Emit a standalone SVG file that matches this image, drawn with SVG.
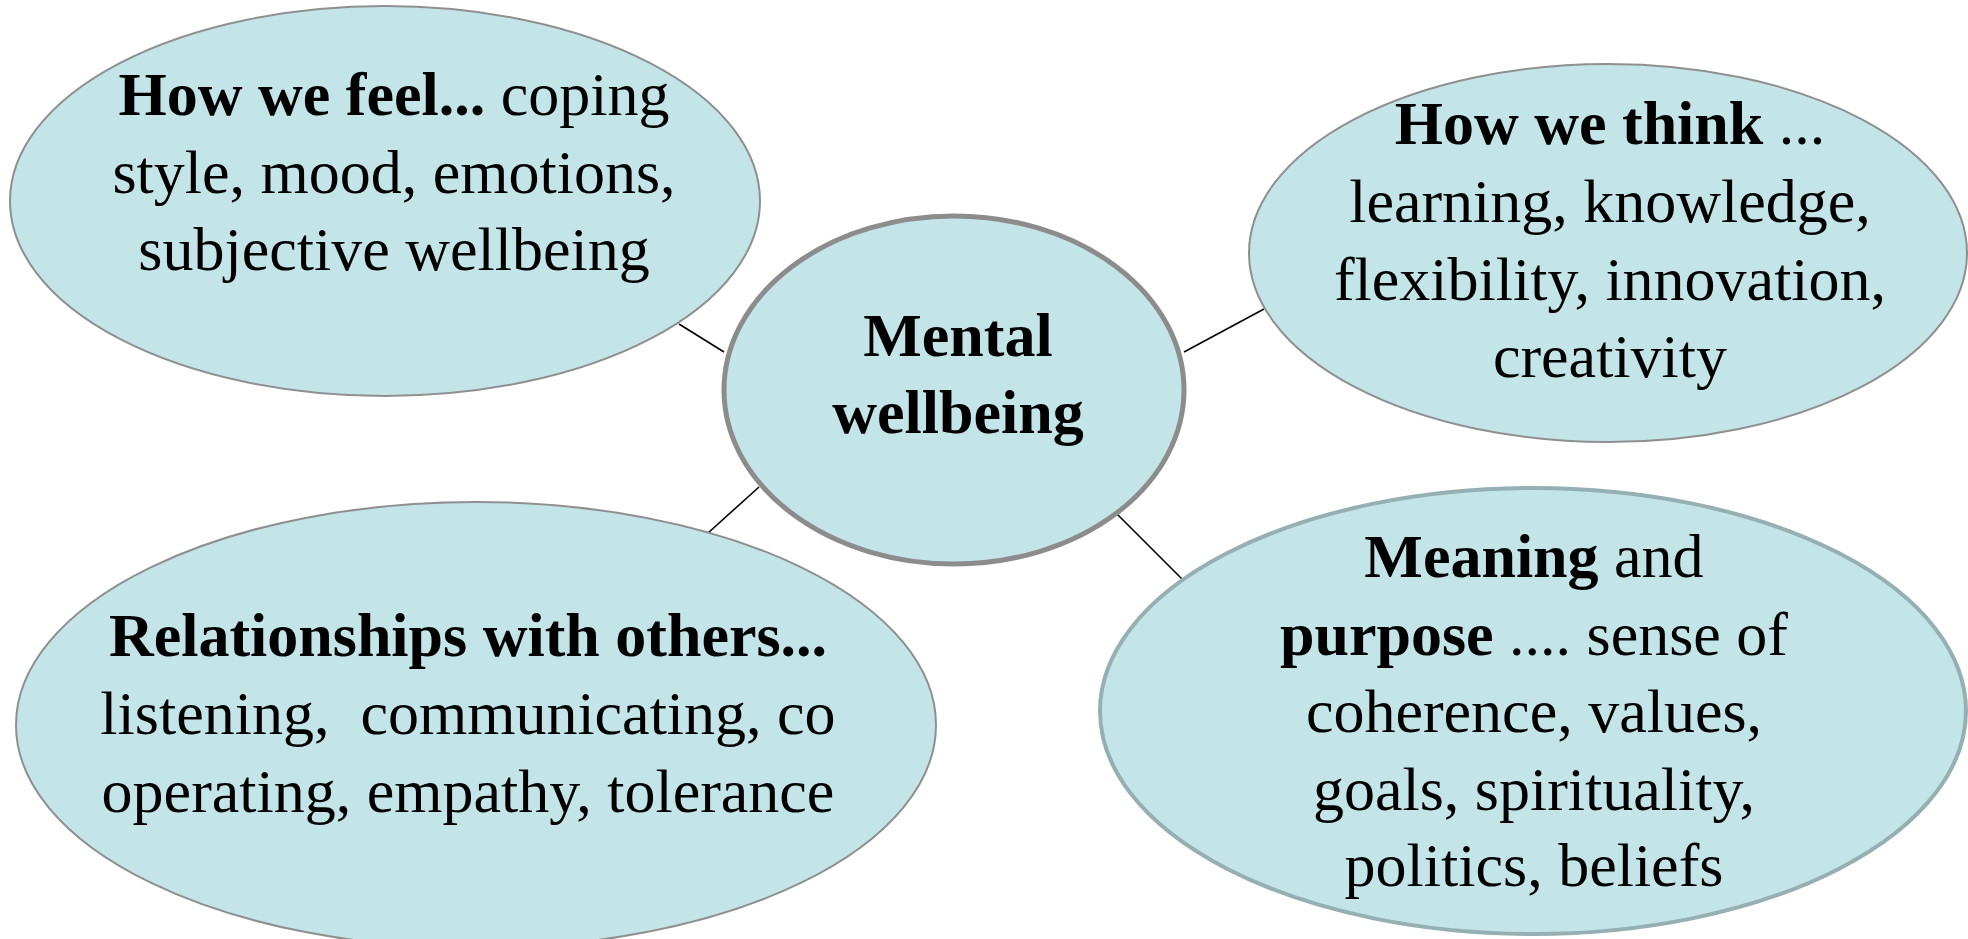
<svg xmlns="http://www.w3.org/2000/svg" width="1968" height="939" viewBox="0 0 1968 939">
  <style>
    .bubble { fill: #c4e5e8; stroke: #8f8f8f; stroke-width: 2; }
    .hub { fill: #c4e5e8; stroke: #8c8c8c; stroke-width: 5; }
    .accent { fill: #c4e5e8; stroke: #95afb2; stroke-width: 4; }
    .link { stroke: #000; stroke-width: 1.6; fill: none; }
    text { font-family: "Liberation Serif", "Times New Roman", serif; font-size: 62px; fill: #000; text-anchor: middle; white-space: pre; }
    .b { font-weight: bold; }
  </style>
  <rect width="1968" height="939" fill="#fff"/>

  <!-- connectors between the hub and each bubble -->
  <g id="connectors">
    <line class="link" x1="679" y1="324" x2="724" y2="352"/>
    <line class="link" x1="1184" y1="352" x2="1264" y2="309"/>
    <line class="link" x1="759" y1="487" x2="708" y2="533"/>
    <line class="link" x1="1116" y1="513" x2="1182" y2="579"/>
  </g>

  <g id="feel">
    <ellipse class="bubble" cx="385" cy="201" rx="375" ry="195"/>
    <text x="394" y="115"><tspan class="b">How we feel...</tspan> coping</text>
    <text x="394" y="193">style, mood, emotions,</text>
    <text x="394" y="270">subjective wellbeing</text>
  </g>

  <g id="think">
    <ellipse class="bubble" cx="1608" cy="253" rx="359" ry="189"/>
    <text x="1610" y="144"><tspan class="b">How we think</tspan> ...</text>
    <text x="1610" y="222">learning, knowledge,</text>
    <text x="1610" y="300">flexibility, innovation,</text>
    <text x="1610" y="377">creativity</text>
  </g>

  <g id="relationships">
    <ellipse class="bubble" cx="476" cy="725" rx="460" ry="223"/>
    <text x="468" y="656" class="b">Relationships with others...</text>
    <text x="468" y="734">listening,  communicating, co</text>
    <text x="468" y="812">operating, empathy, tolerance</text>
  </g>

  <g id="meaning">
    <ellipse class="accent" cx="1533" cy="711" rx="433" ry="223"/>
    <text x="1534" y="577"><tspan class="b">Meaning</tspan> and</text>
    <text x="1534" y="655"><tspan class="b">purpose</tspan> .... sense of</text>
    <text x="1534" y="732">coherence, values,</text>
    <text x="1534" y="810">goals, spirituality,</text>
    <text x="1534" y="886">politics, beliefs</text>
  </g>

  <g id="hub">
    <ellipse class="hub" cx="954" cy="390" rx="230" ry="174"/>
    <text x="958" y="356" class="b">Mental</text>
    <text x="958" y="433" class="b">wellbeing</text>
  </g>
</svg>
